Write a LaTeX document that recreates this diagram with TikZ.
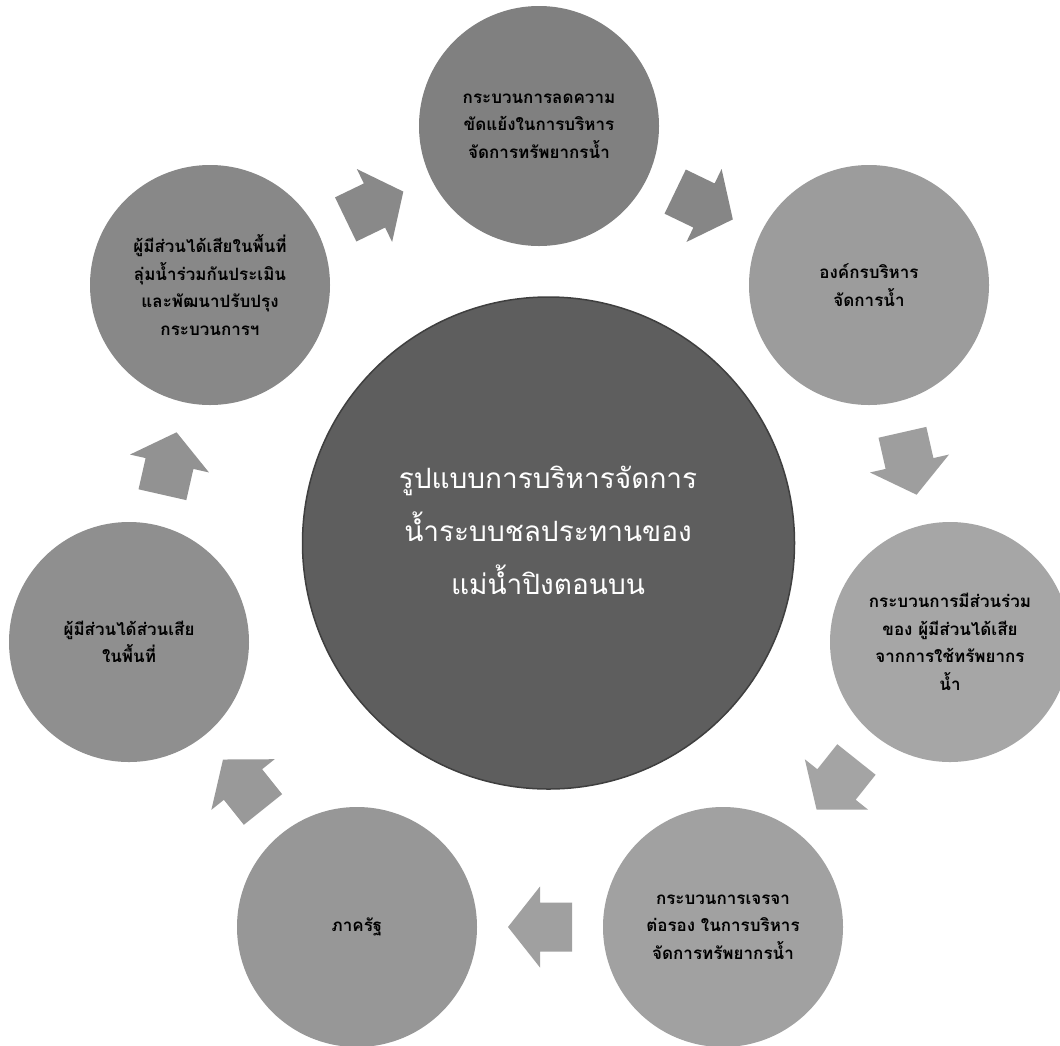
\documentclass[tikz,border=0pt]{standalone}
\usepackage{fontspec}
\newfontfamily\thaifont[Script=Thai]{Loma}
\usetikzlibrary{calc}

% fills of the ring of circles
\definecolor{hubfill}{HTML}{5E5E5E}
\definecolor{hubline}{HTML}{3F3F3F}
\definecolor{circA}{HTML}{808080}
\definecolor{circB}{HTML}{9C9C9C}
\definecolor{circC}{HTML}{A6A6A6}
\definecolor{circD}{HTML}{A1A1A1}
\definecolor{circE}{HTML}{979797}
\definecolor{circF}{HTML}{8F8F8F}
\definecolor{circG}{HTML}{888888}
% fills of the block arrows
\definecolor{arrGA}{HTML}{898989}
\definecolor{arrAB}{HTML}{868686}
\definecolor{arrBC}{HTML}{9E9E9E}
\definecolor{arrCD}{HTML}{A4A4A4}
\definecolor{arrDE}{HTML}{A0A0A0}
\definecolor{arrEF}{HTML}{999999}
\definecolor{arrFG}{HTML}{929292}

\tikzset{
  outercircle/.style={circle, minimum size=240pt, inner sep=0pt, draw=none,
    align=center, text=black,
    font=\thaifont\bfseries\fontsize{17}{27.5}\selectfont},
  hubcircle/.style={circle, minimum size=492pt, inner sep=0pt,
    fill=hubfill, draw=hubline, line width=1.5pt},
  hubtext/.style={align=center, text=white,
    font=\thaifont\fontsize{28}{53}\selectfont},
  blockarrow/.pic={
    \fill[pic actions] (-32,-24.5) -- (0,-24.5) -- (0,-40.5) -- (32,0)
      -- (0,40.5) -- (0,24.5) -- (-32,24.5) -- cycle;
  }
}

\newcommand{\linkarrow}[3]{%
  \path let \p1=($(#2)-(#1)$), \n1={atan2(\y1,\x1)} in
    ($(#1)!0.5!(#2)$) pic[rotate=\n1, fill=#3] {blockarrow};%
}

\begin{document}
\begin{tikzpicture}[x=1pt, y=-1pt]
\useasboundingbox (0,0) rectangle (1060,1045);
\fill[white] (0,0) rectangle (1060,1045);
\clip (0,0) rectangle (1060,1045);

% central circle
\node[hubcircle] (hub) at (548.5,543) {};
\node[hubtext] (hublabel) at (548,530)
  {รูปแบบการบริหารจัดการ\\น้ำระบบชลประทานของ\\แม่น้ำปิงตอนบน};

% ring of seven circles, clockwise from the top
\node[outercircle, fill=circA] (c0) at (539,126)
  {กระบวนการลดความ\\ขัดแย้งในการบริหาร\\จัดการทรัพยากรน้ำ};
\node[outercircle, fill=circB] (c1) at (869,285)
  {องค์กรบริหาร\\จัดการน้ำ};
\node[outercircle, fill=circC] (c2) at (950,642)
  {กระบวนการมีส่วนร่วม\\ของ ผู้มีส่วนได้เสีย\\จากการใช้ทรัพยากร\\น้ำ};
\node[outercircle, fill=circD] (c3) at (723,927)
  {กระบวนการเจรจา\\ต่อรอง ในการบริหาร\\จัดการทรัพยากรน้ำ};
\node[outercircle, fill=circE] (c4) at (357,927)
  {ภาครัฐ};
\node[outercircle, fill=circF] (c5) at (129,642)
  {ผู้มีส่วนได้ส่วนเสีย\\ในพื้นที่};
\node[outercircle, fill=circG] (c6) at (210,285)
  {ผู้มีส่วนได้เสียในพื้นที่\\ลุ่มน้ำร่วมกันประเมิน\\และพัฒนาปรับปรุง\\กระบวนการฯ};

% block arrows between neighbouring circles
\linkarrow{c6}{c0}{arrGA}
\linkarrow{c0}{c1}{arrAB}
\linkarrow{c1}{c2}{arrBC}
\linkarrow{c2}{c3}{arrCD}
\linkarrow{c3}{c4}{arrDE}
\linkarrow{c4}{c5}{arrEF}
\linkarrow{c5}{c6}{arrFG}
\end{tikzpicture}
\end{document}
